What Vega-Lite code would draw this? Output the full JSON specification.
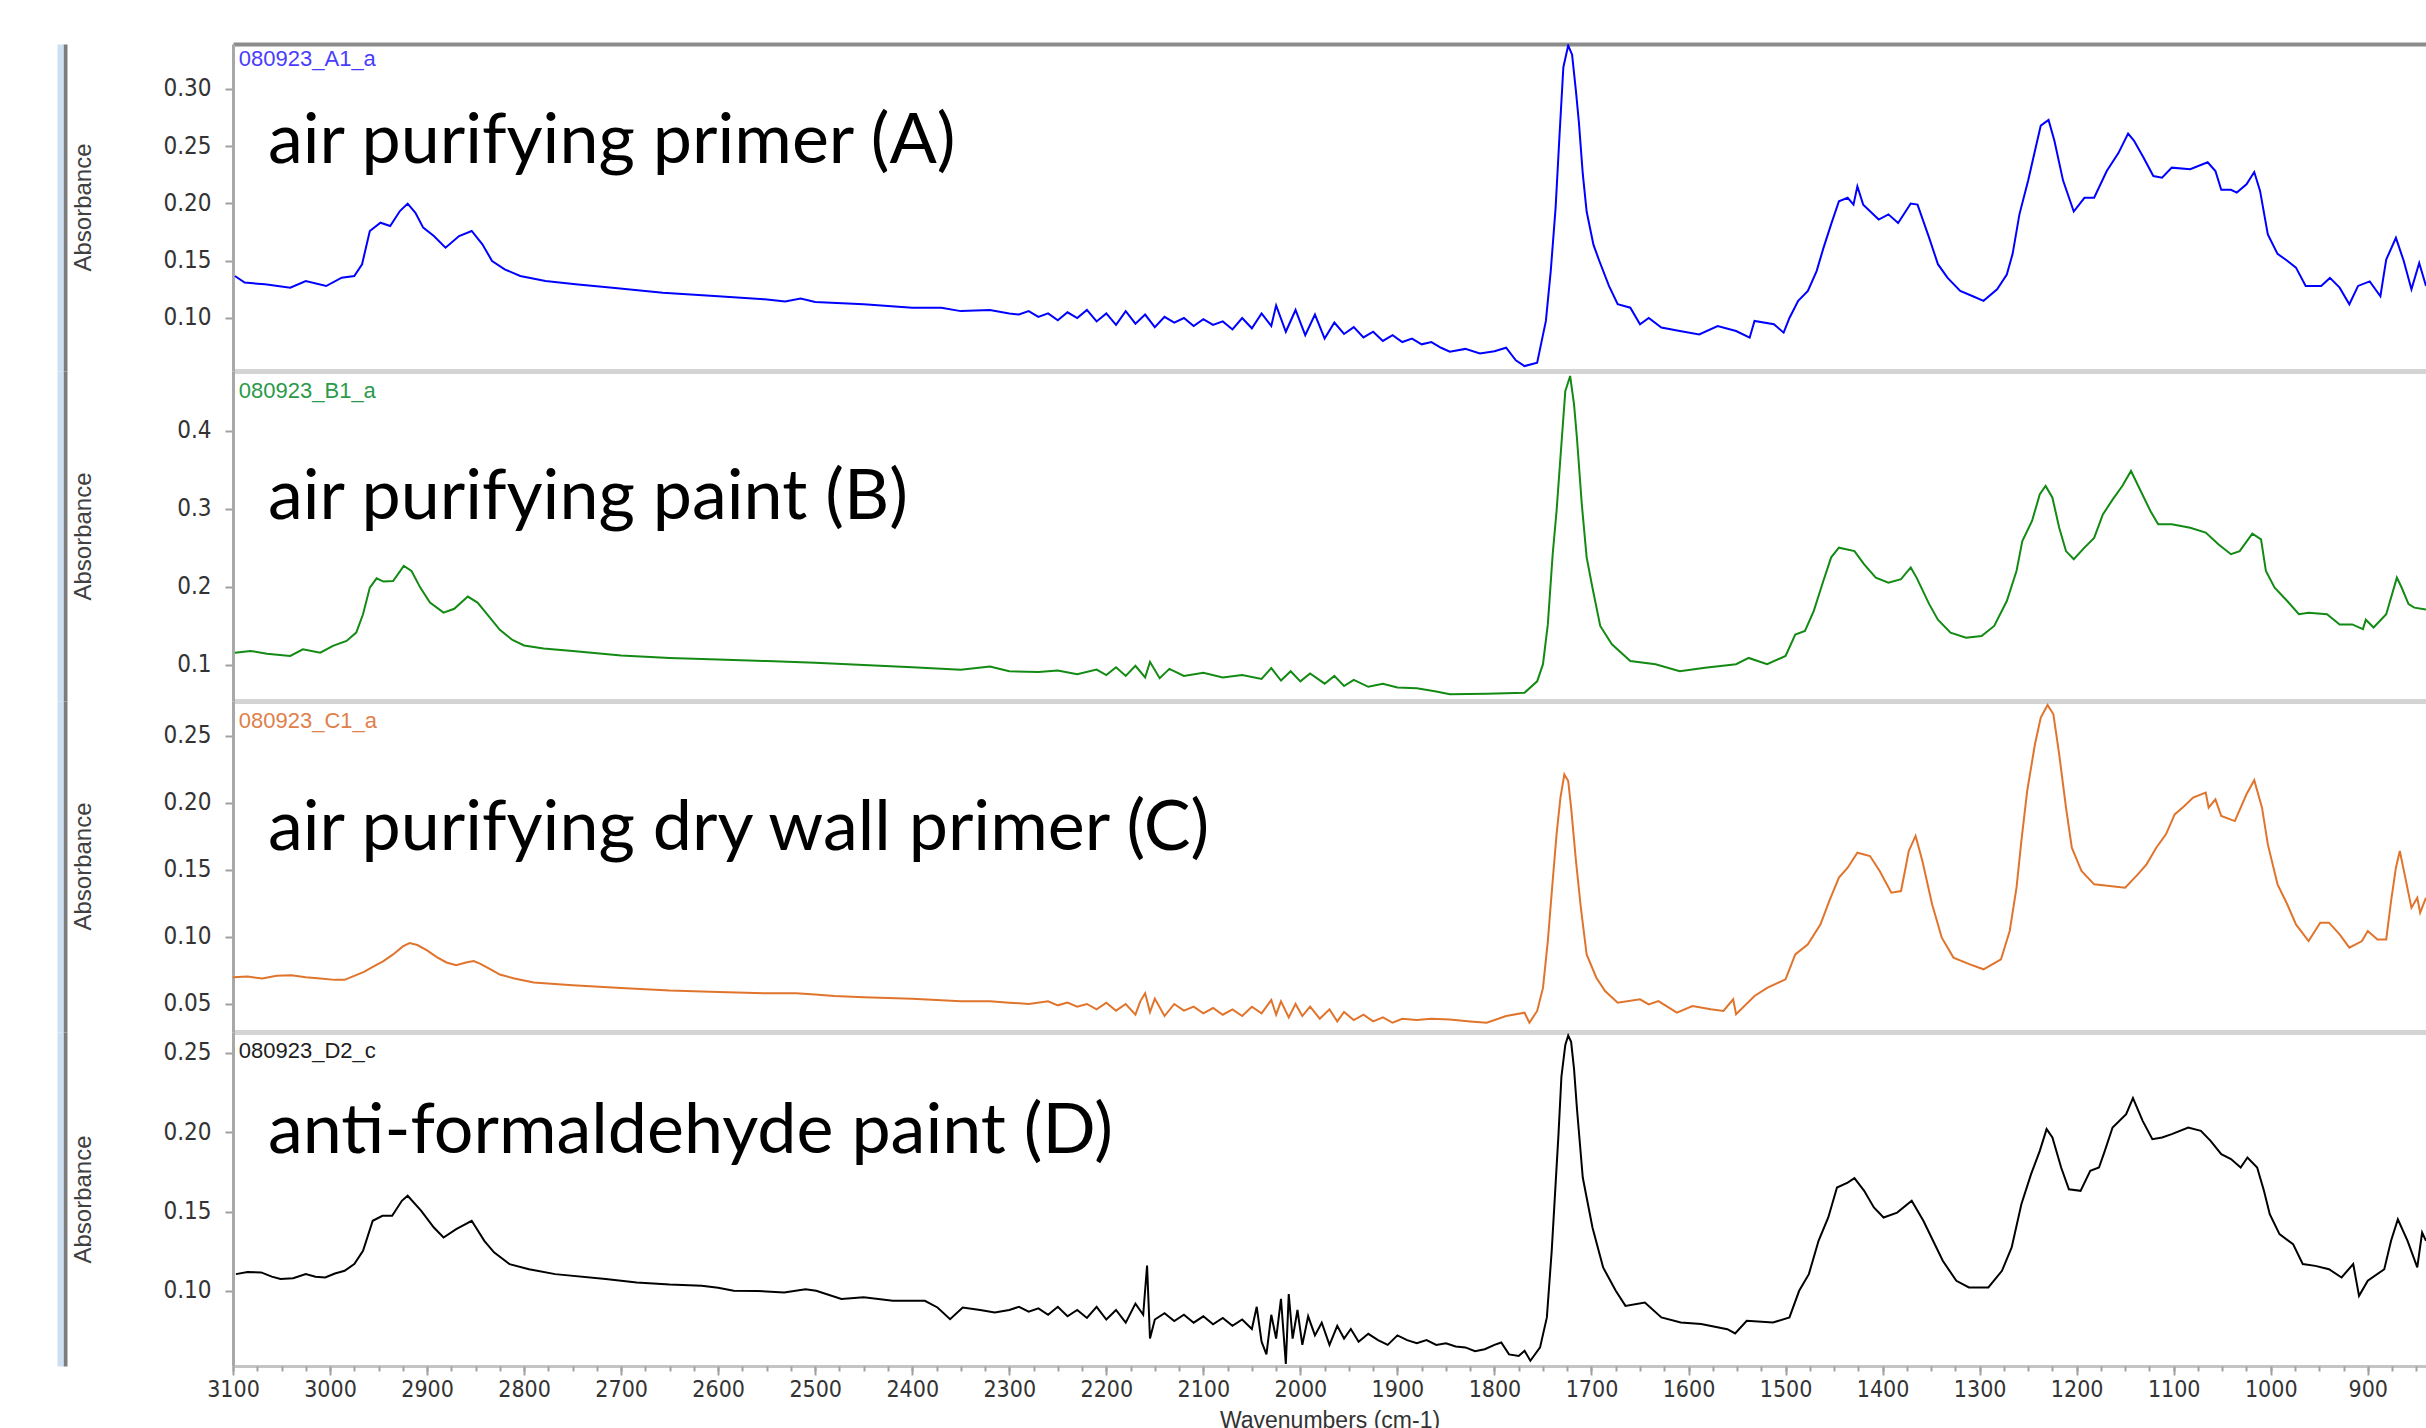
{
"$schema": "https://vega.github.io/schema/vega-lite/v6.json",
"padding": {"top": 44, "left": 60, "right": 0, "bottom": 0},
"background": "white",
"spacing": 0,
"bounds": "flush",
"config": {"view": {"stroke": null}, "axis": {"grid": false, "labelFlush": false}, "concat": {"spacing": 0}},
"datasets": {
"labels": [
{"panel":"A","kind":"id","text":"080923_A1_a","wn":3094,"abs":0.3262},
{"panel":"A","kind":"name","text":"air purifying primer (A)","wn":3064,"abs":0.235},
{"panel":"B","kind":"id","text":"080923_B1_a","wn":3094,"abs":0.4513},
{"panel":"B","kind":"name","text":"air purifying paint (B)","wn":3064,"abs":0.2872},
{"panel":"C","kind":"id","text":"080923_C1_a","wn":3094,"abs":0.2612},
{"panel":"C","kind":"name","text":"air purifying dry wall primer (C)","wn":3064,"abs":0.165},
{"panel":"D","kind":"id","text":"080923_D2_c","wn":3094,"abs":0.2513},
{"panel":"D","kind":"name","text":"anti-formaldehyde paint (D)","wn":3064,"abs":0.187}
],
"A": [
{"wn":3098,"abs":0.1367},{"wn":3088,"abs":0.1309},{"wn":3067,"abs":0.1294},{"wn":3041,"abs":0.1265},{"wn":3025,"abs":0.1323},{"wn":3004,"abs":0.1279},{"wn":2988,"abs":0.1352},{"wn":2975,"abs":0.1367},{"wn":2967,"abs":0.1469},{"wn":2959,"abs":0.176},{"wn":2948,"abs":0.1832},{"wn":2938,"abs":0.1803},{"wn":2928,"abs":0.1934},{"wn":2920,"abs":0.1999},{"wn":2912,"abs":0.1919},{"wn":2904,"abs":0.1789},{"wn":2893,"abs":0.1716},{"wn":2881,"abs":0.1614},{"wn":2867,"abs":0.1716},{"wn":2854,"abs":0.176},{"wn":2843,"abs":0.1643},{"wn":2833,"abs":0.1498},{"wn":2820,"abs":0.1425},{"wn":2804,"abs":0.1367},{"wn":2778,"abs":0.1323},{"wn":2747,"abs":0.1294},{"wn":2709,"abs":0.1265},{"wn":2657,"abs":0.122},{"wn":2604,"abs":0.1192},{"wn":2552,"abs":0.1163},{"wn":2531,"abs":0.1145},{"wn":2515,"abs":0.117},{"wn":2500,"abs":0.114},{"wn":2450,"abs":0.112},{"wn":2400,"abs":0.109},{"wn":2370,"abs":0.109},{"wn":2350,"abs":0.106},{"wn":2320,"abs":0.107},{"wn":2300,"abs":0.104},{"wn":2290,"abs":0.103},{"wn":2280,"abs":0.106},{"wn":2270,"abs":0.101},{"wn":2260,"abs":0.104},{"wn":2250,"abs":0.098},{"wn":2240,"abs":0.105},{"wn":2230,"abs":0.1},{"wn":2220,"abs":0.107},{"wn":2210,"abs":0.097},{"wn":2200,"abs":0.104},{"wn":2190,"abs":0.094},{"wn":2180,"abs":0.106},{"wn":2170,"abs":0.095},{"wn":2160,"abs":0.103},{"wn":2150,"abs":0.092},{"wn":2140,"abs":0.101},{"wn":2130,"abs":0.096},{"wn":2120,"abs":0.1},{"wn":2110,"abs":0.093},{"wn":2100,"abs":0.099},{"wn":2090,"abs":0.094},{"wn":2080,"abs":0.097},{"wn":2070,"abs":0.09},{"wn":2060,"abs":0.1},{"wn":2050,"abs":0.091},{"wn":2040,"abs":0.104},{"wn":2030,"abs":0.093},{"wn":2025,"abs":0.111},{"wn":2015,"abs":0.088},{"wn":2005,"abs":0.107},{"wn":1995,"abs":0.085},{"wn":1985,"abs":0.103},{"wn":1975,"abs":0.082},{"wn":1965,"abs":0.096},{"wn":1955,"abs":0.086},{"wn":1945,"abs":0.092},{"wn":1935,"abs":0.083},{"wn":1925,"abs":0.088},{"wn":1915,"abs":0.08},{"wn":1905,"abs":0.085},{"wn":1895,"abs":0.079},{"wn":1885,"abs":0.082},{"wn":1875,"abs":0.077},{"wn":1865,"abs":0.079},{"wn":1855,"abs":0.074},{"wn":1846,"abs":0.0706},{"wn":1830,"abs":0.073},{"wn":1815,"abs":0.069},{"wn":1800,"abs":0.071},{"wn":1788,"abs":0.074},{"wn":1778,"abs":0.063},{"wn":1769,"abs":0.058},{"wn":1756,"abs":0.061},{"wn":1747,"abs":0.0974},{"wn":1742,"abs":0.141},{"wn":1737,"abs":0.196},{"wn":1733,"abs":0.259},{"wn":1729,"abs":0.319},{"wn":1724,"abs":0.338},{"wn":1720,"abs":0.33},{"wn":1716,"abs":0.298},{"wn":1713,"abs":0.271},{"wn":1709,"abs":0.226},{"wn":1705,"abs":0.193},{"wn":1698,"abs":0.164},{"wn":1692,"abs":0.15},{"wn":1682,"abs":0.128},{"wn":1673,"abs":0.112},{"wn":1660,"abs":0.109},{"wn":1650,"abs":0.0945},{"wn":1641,"abs":0.1},{"wn":1628,"abs":0.0916},{"wn":1609,"abs":0.0886},{"wn":1589,"abs":0.0857},{"wn":1570,"abs":0.093},{"wn":1551,"abs":0.0886},{"wn":1537,"abs":0.0828},{"wn":1532,"abs":0.0974},{"wn":1512,"abs":0.0945},{"wn":1502,"abs":0.0872},{"wn":1496,"abs":0.1},{"wn":1487,"abs":0.115},{"wn":1477,"abs":0.1236},{"wn":1468,"abs":0.141},{"wn":1461,"abs":0.161},{"wn":1453,"abs":0.182},{"wn":1445,"abs":0.202},{"wn":1436,"abs":0.205},{"wn":1430,"abs":0.199},{"wn":1426,"abs":0.215},{"wn":1420,"abs":0.199},{"wn":1404,"abs":0.186},{"wn":1394,"abs":0.1905},{"wn":1384,"abs":0.183},{"wn":1371,"abs":0.2},{"wn":1364,"abs":0.199},{"wn":1352,"abs":0.17},{"wn":1343,"abs":0.147},{"wn":1333,"abs":0.135},{"wn":1320,"abs":0.1236},{"wn":1307,"abs":0.119},{"wn":1296,"abs":0.115},{"wn":1282,"abs":0.125},{"wn":1272,"abs":0.138},{"wn":1266,"abs":0.156},{"wn":1259,"abs":0.1905},{"wn":1250,"abs":0.22},{"wn":1243,"abs":0.246},{"wn":1237,"abs":0.268},{"wn":1229,"abs":0.273},{"wn":1223,"abs":0.255},{"wn":1214,"abs":0.22},{"wn":1203,"abs":0.193},{"wn":1192,"abs":0.205},{"wn":1182,"abs":0.205},{"wn":1169,"abs":0.2284},{"wn":1157,"abs":0.244},{"wn":1147,"abs":0.261},{"wn":1141,"abs":0.255},{"wn":1131,"abs":0.24},{"wn":1121,"abs":0.224},{"wn":1112,"abs":0.2226},{"wn":1102,"abs":0.2313},{"wn":1083,"abs":0.23},{"wn":1065,"abs":0.236},{"wn":1057,"abs":0.2284},{"wn":1051,"abs":0.212},{"wn":1041,"abs":0.212},{"wn":1035,"abs":0.2095},{"wn":1025,"abs":0.2167},{"wn":1017,"abs":0.2275},{"wn":1011,"abs":0.211},{"wn":1003,"abs":0.173},{"wn":993,"abs":0.156},{"wn":983,"abs":0.15},{"wn":974,"abs":0.144},{"wn":964,"abs":0.128},{"wn":948,"abs":0.128},{"wn":939,"abs":0.135},{"wn":929,"abs":0.1265},{"wn":919,"abs":0.112},{"wn":910,"abs":0.128},{"wn":898,"abs":0.132},{"wn":887,"abs":0.119},{"wn":881,"abs":0.151},{"wn":871,"abs":0.17},{"wn":863,"abs":0.15},{"wn":855,"abs":0.125},{"wn":847,"abs":0.148},{"wn":840,"abs":0.128}
],
"B": [
{"wn":3098,"abs":0.1158},{"wn":3082,"abs":0.118},{"wn":3065,"abs":0.1145},{"wn":3041,"abs":0.1115},{"wn":3028,"abs":0.12},{"wn":3010,"abs":0.1158},{"wn":2997,"abs":0.1244},{"wn":2983,"abs":0.1308},{"wn":2973,"abs":0.1415},{"wn":2966,"abs":0.165},{"wn":2959,"abs":0.1992},{"wn":2952,"abs":0.2111},{"wn":2945,"abs":0.2069},{"wn":2935,"abs":0.2077},{"wn":2924,"abs":0.227},{"wn":2916,"abs":0.2205},{"wn":2907,"abs":0.1992},{"wn":2897,"abs":0.18},{"wn":2883,"abs":0.1671},{"wn":2872,"abs":0.172},{"wn":2858,"abs":0.1877},{"wn":2848,"abs":0.18},{"wn":2838,"abs":0.165},{"wn":2825,"abs":0.145},{"wn":2812,"abs":0.132},{"wn":2800,"abs":0.125},{"wn":2780,"abs":0.121},{"wn":2750,"abs":0.118},{"wn":2700,"abs":0.112},{"wn":2650,"abs":0.109},{"wn":2600,"abs":0.107},{"wn":2550,"abs":0.105},{"wn":2500,"abs":0.103},{"wn":2450,"abs":0.1},{"wn":2400,"abs":0.097},{"wn":2350,"abs":0.094},{"wn":2320,"abs":0.098},{"wn":2300,"abs":0.092},{"wn":2270,"abs":0.091},{"wn":2250,"abs":0.093},{"wn":2230,"abs":0.088},{"wn":2210,"abs":0.094},{"wn":2200,"abs":0.087},{"wn":2190,"abs":0.097},{"wn":2180,"abs":0.086},{"wn":2170,"abs":0.099},{"wn":2160,"abs":0.084},{"wn":2155,"abs":0.104},{"wn":2145,"abs":0.083},{"wn":2135,"abs":0.095},{"wn":2120,"abs":0.086},{"wn":2100,"abs":0.09},{"wn":2080,"abs":0.084},{"wn":2060,"abs":0.087},{"wn":2040,"abs":0.082},{"wn":2030,"abs":0.096},{"wn":2020,"abs":0.08},{"wn":2010,"abs":0.092},{"wn":2000,"abs":0.079},{"wn":1990,"abs":0.089},{"wn":1975,"abs":0.076},{"wn":1965,"abs":0.086},{"wn":1955,"abs":0.073},{"wn":1945,"abs":0.081},{"wn":1930,"abs":0.072},{"wn":1915,"abs":0.076},{"wn":1900,"abs":0.071},{"wn":1880,"abs":0.07},{"wn":1860,"abs":0.066},{"wn":1846,"abs":0.0624},{"wn":1808,"abs":0.063},{"wn":1769,"abs":0.0645},{"wn":1756,"abs":0.079},{"wn":1750,"abs":0.101},{"wn":1745,"abs":0.152},{"wn":1740,"abs":0.242},{"wn":1736,"abs":0.2974},{"wn":1732,"abs":0.366},{"wn":1727,"abs":0.451},{"wn":1722,"abs":0.4705},{"wn":1718,"abs":0.434},{"wn":1715,"abs":0.391},{"wn":1710,"abs":0.306},{"wn":1705,"abs":0.238},{"wn":1699,"abs":0.199},{"wn":1691,"abs":0.15},{"wn":1679,"abs":0.1265},{"wn":1660,"abs":0.105},{"wn":1634,"abs":0.101},{"wn":1609,"abs":0.092},{"wn":1583,"abs":0.0965},{"wn":1551,"abs":0.101},{"wn":1538,"abs":0.109},{"wn":1519,"abs":0.101},{"wn":1500,"abs":0.1115},{"wn":1490,"abs":0.139},{"wn":1480,"abs":0.1436},{"wn":1471,"abs":0.169},{"wn":1461,"abs":0.208},{"wn":1453,"abs":0.238},{"wn":1445,"abs":0.2504},{"wn":1429,"abs":0.246},{"wn":1419,"abs":0.229},{"wn":1407,"abs":0.212},{"wn":1394,"abs":0.2055},{"wn":1381,"abs":0.21},{"wn":1371,"abs":0.225},{"wn":1365,"abs":0.212},{"wn":1352,"abs":0.178},{"wn":1343,"abs":0.158},{"wn":1330,"abs":0.1414},{"wn":1314,"abs":0.135},{"wn":1298,"abs":0.137},{"wn":1285,"abs":0.15},{"wn":1272,"abs":0.182},{"wn":1262,"abs":0.2205},{"wn":1256,"abs":0.259},{"wn":1246,"abs":0.2846},{"wn":1238,"abs":0.319},{"wn":1232,"abs":0.3295},{"wn":1225,"abs":0.3145},{"wn":1218,"abs":0.276},{"wn":1211,"abs":0.246},{"wn":1203,"abs":0.2355},{"wn":1192,"abs":0.2504},{"wn":1182,"abs":0.263},{"wn":1173,"abs":0.293},{"wn":1163,"abs":0.312},{"wn":1153,"abs":0.3295},{"wn":1144,"abs":0.3487},{"wn":1134,"abs":0.323},{"wn":1124,"abs":0.2974},{"wn":1116,"abs":0.2803},{"wn":1102,"abs":0.2803},{"wn":1083,"abs":0.276},{"wn":1067,"abs":0.2697},{"wn":1054,"abs":0.2547},{"wn":1041,"abs":0.242},{"wn":1032,"abs":0.246},{"wn":1019,"abs":0.2684},{"wn":1010,"abs":0.261},{"wn":1005,"abs":0.2205},{"wn":996,"abs":0.199},{"wn":983,"abs":0.182},{"wn":971,"abs":0.165},{"wn":961,"abs":0.167},{"wn":942,"abs":0.165},{"wn":929,"abs":0.152},{"wn":916,"abs":0.152},{"wn":905,"abs":0.146},{"wn":902,"abs":0.158},{"wn":894,"abs":0.148},{"wn":881,"abs":0.165},{"wn":870,"abs":0.212},{"wn":865,"abs":0.199},{"wn":858,"abs":0.178},{"wn":852,"abs":0.1735},{"wn":840,"abs":0.171}
],
"C": [
{"wn":3100,"abs":0.07},{"wn":3085,"abs":0.0705},{"wn":3070,"abs":0.069},{"wn":3055,"abs":0.071},{"wn":3040,"abs":0.0715},{"wn":3025,"abs":0.07},{"wn":3010,"abs":0.069},{"wn":2995,"abs":0.068},{"wn":2985,"abs":0.068},{"wn":2975,"abs":0.071},{"wn":2965,"abs":0.074},{"wn":2955,"abs":0.078},{"wn":2945,"abs":0.082},{"wn":2935,"abs":0.087},{"wn":2925,"abs":0.093},{"wn":2918,"abs":0.0955},{"wn":2910,"abs":0.094},{"wn":2900,"abs":0.09},{"wn":2890,"abs":0.085},{"wn":2880,"abs":0.081},{"wn":2870,"abs":0.079},{"wn":2860,"abs":0.081},{"wn":2852,"abs":0.082},{"wn":2845,"abs":0.08},{"wn":2835,"abs":0.076},{"wn":2825,"abs":0.072},{"wn":2810,"abs":0.069},{"wn":2790,"abs":0.066},{"wn":2750,"abs":0.064},{"wn":2700,"abs":0.062},{"wn":2650,"abs":0.06},{"wn":2600,"abs":0.059},{"wn":2550,"abs":0.058},{"wn":2520,"abs":0.058},{"wn":2500,"abs":0.057},{"wn":2480,"abs":0.056},{"wn":2450,"abs":0.055},{"wn":2400,"abs":0.054},{"wn":2350,"abs":0.052},{"wn":2320,"abs":0.052},{"wn":2300,"abs":0.051},{"wn":2280,"abs":0.05},{"wn":2260,"abs":0.052},{"wn":2250,"abs":0.049},{"wn":2240,"abs":0.051},{"wn":2230,"abs":0.048},{"wn":2220,"abs":0.05},{"wn":2210,"abs":0.046},{"wn":2200,"abs":0.051},{"wn":2190,"abs":0.045},{"wn":2180,"abs":0.05},{"wn":2170,"abs":0.042},{"wn":2165,"abs":0.052},{"wn":2160,"abs":0.058},{"wn":2155,"abs":0.044},{"wn":2150,"abs":0.054},{"wn":2140,"abs":0.041},{"wn":2130,"abs":0.05},{"wn":2120,"abs":0.045},{"wn":2110,"abs":0.048},{"wn":2100,"abs":0.043},{"wn":2090,"abs":0.047},{"wn":2080,"abs":0.042},{"wn":2070,"abs":0.046},{"wn":2060,"abs":0.041},{"wn":2050,"abs":0.048},{"wn":2040,"abs":0.043},{"wn":2030,"abs":0.053},{"wn":2025,"abs":0.042},{"wn":2020,"abs":0.052},{"wn":2012,"abs":0.04},{"wn":2005,"abs":0.05},{"wn":1998,"abs":0.041},{"wn":1990,"abs":0.048},{"wn":1980,"abs":0.039},{"wn":1970,"abs":0.046},{"wn":1962,"abs":0.037},{"wn":1955,"abs":0.044},{"wn":1945,"abs":0.038},{"wn":1935,"abs":0.042},{"wn":1925,"abs":0.037},{"wn":1915,"abs":0.04},{"wn":1905,"abs":0.036},{"wn":1895,"abs":0.039},{"wn":1880,"abs":0.038},{"wn":1865,"abs":0.039},{"wn":1846,"abs":0.0385},{"wn":1825,"abs":0.037},{"wn":1808,"abs":0.036},{"wn":1788,"abs":0.041},{"wn":1769,"abs":0.0435},{"wn":1764,"abs":0.036},{"wn":1756,"abs":0.0448},{"wn":1750,"abs":0.062},{"wn":1745,"abs":0.097},{"wn":1740,"abs":0.1418},{"wn":1736,"abs":0.1766},{"wn":1732,"abs":0.204},{"wn":1728,"abs":0.2214},{"wn":1724,"abs":0.2164},{"wn":1721,"abs":0.1965},{"wn":1716,"abs":0.1567},{"wn":1711,"abs":0.122},{"wn":1705,"abs":0.087},{"wn":1695,"abs":0.0696},{"wn":1686,"abs":0.0597},{"wn":1673,"abs":0.051},{"wn":1650,"abs":0.0535},{"wn":1641,"abs":0.0497},{"wn":1631,"abs":0.0522},{"wn":1612,"abs":0.0435},{"wn":1596,"abs":0.0485},{"wn":1577,"abs":0.046},{"wn":1564,"abs":0.0448},{"wn":1554,"abs":0.0535},{"wn":1551,"abs":0.0423},{"wn":1532,"abs":0.056},{"wn":1519,"abs":0.062},{"wn":1500,"abs":0.0684},{"wn":1490,"abs":0.087},{"wn":1477,"abs":0.0945},{"wn":1464,"abs":0.1094},{"wn":1455,"abs":0.1268},{"wn":1445,"abs":0.1443},{"wn":1436,"abs":0.1517},{"wn":1426,"abs":0.1629},{"wn":1413,"abs":0.1604},{"wn":1403,"abs":0.1492},{"wn":1391,"abs":0.1331},{"wn":1381,"abs":0.1343},{"wn":1373,"abs":0.1642},{"wn":1366,"abs":0.1754},{"wn":1359,"abs":0.1567},{"wn":1349,"abs":0.1244},{"wn":1339,"abs":0.0995},{"wn":1327,"abs":0.0846},{"wn":1310,"abs":0.0796},{"wn":1296,"abs":0.0759},{"wn":1278,"abs":0.0833},{"wn":1269,"abs":0.1045},{"wn":1262,"abs":0.1368},{"wn":1257,"abs":0.1716},{"wn":1251,"abs":0.209},{"wn":1243,"abs":0.2438},{"wn":1237,"abs":0.2637},{"wn":1230,"abs":0.2731},{"wn":1224,"abs":0.2662},{"wn":1218,"abs":0.2363},{"wn":1211,"abs":0.1965},{"wn":1205,"abs":0.1666},{"wn":1195,"abs":0.1492},{"wn":1182,"abs":0.1393},{"wn":1166,"abs":0.138},{"wn":1150,"abs":0.1368},{"wn":1137,"abs":0.1467},{"wn":1128,"abs":0.1542},{"wn":1118,"abs":0.1666},{"wn":1108,"abs":0.1766},{"wn":1099,"abs":0.1915},{"wn":1089,"abs":0.1977},{"wn":1080,"abs":0.204},{"wn":1067,"abs":0.2077},{"wn":1064,"abs":0.1965},{"wn":1057,"abs":0.2027},{"wn":1051,"abs":0.1903},{"wn":1037,"abs":0.1865},{"wn":1025,"abs":0.2065},{"wn":1017,"abs":0.217},{"wn":1009,"abs":0.1965},{"wn":1003,"abs":0.1691},{"wn":993,"abs":0.1393},{"wn":983,"abs":0.1244},{"wn":974,"abs":0.1094},{"wn":961,"abs":0.097},{"wn":949,"abs":0.1107},{"wn":940,"abs":0.1107},{"wn":929,"abs":0.102},{"wn":919,"abs":0.092},{"wn":906,"abs":0.097},{"wn":900,"abs":0.1045},{"wn":890,"abs":0.0982},{"wn":881,"abs":0.0982},{"wn":876,"abs":0.1268},{"wn":871,"abs":0.1517},{"wn":867,"abs":0.1642},{"wn":862,"abs":0.1467},{"wn":855,"abs":0.1219},{"wn":849,"abs":0.1293},{"wn":846,"abs":0.1182},{"wn":840,"abs":0.1293}
],
"D": [
{"wn":3097,"abs":0.1106},{"wn":3085,"abs":0.112},{"wn":3071,"abs":0.1117},{"wn":3060,"abs":0.109},{"wn":3051,"abs":0.1075},{"wn":3038,"abs":0.108},{"wn":3025,"abs":0.1106},{"wn":3015,"abs":0.109},{"wn":3005,"abs":0.1085},{"wn":2995,"abs":0.111},{"wn":2985,"abs":0.1127},{"wn":2975,"abs":0.1169},{"wn":2966,"abs":0.1253},{"wn":2956,"abs":0.1442},{"wn":2946,"abs":0.1474},{"wn":2936,"abs":0.1474},{"wn":2926,"abs":0.1568},{"wn":2920,"abs":0.16},{"wn":2906,"abs":0.1505},{"wn":2893,"abs":0.14},{"wn":2883,"abs":0.1337},{"wn":2870,"abs":0.139},{"wn":2854,"abs":0.1442},{"wn":2841,"abs":0.1316},{"wn":2831,"abs":0.1243},{"wn":2815,"abs":0.1169},{"wn":2795,"abs":0.1137},{"wn":2768,"abs":0.1106},{"wn":2716,"abs":0.1075},{"wn":2684,"abs":0.1054},{"wn":2650,"abs":0.104},{"wn":2617,"abs":0.1033},{"wn":2600,"abs":0.102},{"wn":2584,"abs":0.1001},{"wn":2560,"abs":0.1},{"wn":2532,"abs":0.0991},{"wn":2510,"abs":0.101},{"wn":2499,"abs":0.1001},{"wn":2473,"abs":0.0949},{"wn":2450,"abs":0.096},{"wn":2420,"abs":0.0938},{"wn":2387,"abs":0.0938},{"wn":2374,"abs":0.0896},{"wn":2361,"abs":0.0822},{"wn":2348,"abs":0.0896},{"wn":2330,"abs":0.088},{"wn":2315,"abs":0.0864},{"wn":2300,"abs":0.088},{"wn":2290,"abs":0.09},{"wn":2280,"abs":0.087},{"wn":2270,"abs":0.089},{"wn":2260,"abs":0.085},{"wn":2250,"abs":0.09},{"wn":2240,"abs":0.084},{"wn":2230,"abs":0.088},{"wn":2220,"abs":0.083},{"wn":2210,"abs":0.09},{"wn":2200,"abs":0.082},{"wn":2190,"abs":0.088},{"wn":2180,"abs":0.08},{"wn":2170,"abs":0.092},{"wn":2162,"abs":0.085},{"wn":2158,"abs":0.116},{"wn":2155,"abs":0.07},{"wn":2150,"abs":0.082},{"wn":2140,"abs":0.086},{"wn":2130,"abs":0.081},{"wn":2120,"abs":0.085},{"wn":2110,"abs":0.08},{"wn":2100,"abs":0.084},{"wn":2090,"abs":0.079},{"wn":2080,"abs":0.083},{"wn":2070,"abs":0.078},{"wn":2060,"abs":0.082},{"wn":2050,"abs":0.076},{"wn":2045,"abs":0.09},{"wn":2040,"abs":0.068},{"wn":2035,"abs":0.06},{"wn":2030,"abs":0.085},{"wn":2025,"abs":0.07},{"wn":2020,"abs":0.095},{"wn":2015,"abs":0.054},{"wn":2012,"abs":0.098},{"wn":2008,"abs":0.07},{"wn":2003,"abs":0.088},{"wn":1998,"abs":0.066},{"wn":1992,"abs":0.084},{"wn":1985,"abs":0.072},{"wn":1978,"abs":0.08},{"wn":1970,"abs":0.066},{"wn":1962,"abs":0.078},{"wn":1955,"abs":0.07},{"wn":1948,"abs":0.076},{"wn":1940,"abs":0.068},{"wn":1930,"abs":0.073},{"wn":1920,"abs":0.069},{"wn":1910,"abs":0.066},{"wn":1900,"abs":0.072},{"wn":1890,"abs":0.069},{"wn":1880,"abs":0.067},{"wn":1870,"abs":0.069},{"wn":1860,"abs":0.066},{"wn":1850,"abs":0.067},{"wn":1840,"abs":0.065},{"wn":1830,"abs":0.0644},{"wn":1820,"abs":0.062},{"wn":1810,"abs":0.0633},{"wn":1800,"abs":0.066},{"wn":1793,"abs":0.0675},{"wn":1785,"abs":0.06},{"wn":1775,"abs":0.059},{"wn":1769,"abs":0.0623},{"wn":1763,"abs":0.056},{"wn":1753,"abs":0.0644},{"wn":1746,"abs":0.0833},{"wn":1741,"abs":0.1253},{"wn":1737,"abs":0.1673},{"wn":1734,"abs":0.1988},{"wn":1731,"abs":0.235},{"wn":1727,"abs":0.255},{"wn":1724,"abs":0.261},{"wn":1721,"abs":0.257},{"wn":1718,"abs":0.24},{"wn":1715,"abs":0.215},{"wn":1709,"abs":0.1715},{"wn":1699,"abs":0.14},{"wn":1688,"abs":0.1148},{"wn":1675,"abs":0.1001},{"wn":1665,"abs":0.0906},{"wn":1645,"abs":0.0927},{"wn":1628,"abs":0.0833},{"wn":1608,"abs":0.0801},{"wn":1587,"abs":0.0791},{"wn":1560,"abs":0.0759},{"wn":1552,"abs":0.0732},{"wn":1540,"abs":0.0812},{"wn":1513,"abs":0.0801},{"wn":1496,"abs":0.0833},{"wn":1486,"abs":0.1001},{"wn":1476,"abs":0.1106},{"wn":1466,"abs":0.1316},{"wn":1456,"abs":0.1463},{"wn":1447,"abs":0.1652},{"wn":1436,"abs":0.1683},{"wn":1429,"abs":0.1711},{"wn":1419,"abs":0.1631},{"wn":1409,"abs":0.1526},{"wn":1399,"abs":0.1463},{"wn":1385,"abs":0.1494},{"wn":1370,"abs":0.1568},{"wn":1358,"abs":0.1442},{"wn":1348,"abs":0.1316},{"wn":1338,"abs":0.119},{"wn":1324,"abs":0.1064},{"wn":1311,"abs":0.1022},{"wn":1291,"abs":0.1022},{"wn":1277,"abs":0.1127},{"wn":1267,"abs":0.1274},{"wn":1257,"abs":0.1547},{"wn":1247,"abs":0.1736},{"wn":1238,"abs":0.1883},{"wn":1231,"abs":0.202},{"wn":1225,"abs":0.1967},{"wn":1216,"abs":0.1778},{"wn":1208,"abs":0.1641},{"wn":1196,"abs":0.1631},{"wn":1186,"abs":0.1757},{"wn":1177,"abs":0.1778},{"wn":1171,"abs":0.1883},{"wn":1163,"abs":0.203},{"wn":1149,"abs":0.2114},{"wn":1142,"abs":0.2216},{"wn":1132,"abs":0.2072},{"wn":1122,"abs":0.1956},{"wn":1112,"abs":0.1967},{"wn":1102,"abs":0.1988},{"wn":1085,"abs":0.203},{"wn":1072,"abs":0.2009},{"wn":1062,"abs":0.1946},{"wn":1051,"abs":0.1862},{"wn":1041,"abs":0.1831},{"wn":1031,"abs":0.1778},{"wn":1024,"abs":0.1841},{"wn":1014,"abs":0.1778},{"wn":1007,"abs":0.1631},{"wn":1001,"abs":0.1484},{"wn":991,"abs":0.1358},{"wn":977,"abs":0.1295},{"wn":967,"abs":0.117},{"wn":954,"abs":0.1158},{"wn":940,"abs":0.1137},{"wn":927,"abs":0.1085},{"wn":915,"abs":0.117},{"wn":909,"abs":0.0969},{"wn":900,"abs":0.1064},{"wn":883,"abs":0.1137},{"wn":876,"abs":0.1316},{"wn":869,"abs":0.1452},{"wn":859,"abs":0.1316},{"wn":849,"abs":0.1148},{"wn":844,"abs":0.1368},{"wn":840,"abs":0.1316}
]
},
"vconcat": [
{
"width": 2193, "height": 327,
"layer": [
{"data": {"name": "A"}, "mark": {"type": "line", "color": "#0000ff", "strokeWidth": 2, "clip": true},
 "encoding": {
  "x": {"field": "wn", "type": "quantitative", "scale": {"domain": [3100, 840], "nice": false, "zero": false},
        "axis": {"orient": "bottom", "labels": false, "ticks": false, "title": null, "domainColor": "#d4d4d4", "domainWidth": 5}},
  "y": {"field": "abs", "type": "quantitative", "scale": {"domain": [0.0537, 0.3393], "nice": false, "zero": false},
        "axis": {"orient": "left", "values": [0.1, 0.15, 0.2, 0.25, 0.3], "format": ".2f", "title": "Absorbance", "titleX": -150, "titleY": 163, "titleAngle": 270, "titleBaseline": "middle", "titleAlign": "center", "titleFont": "Liberation Sans", "titleFontSize": 24, "titleFontWeight": "normal", "titleColor": "#404040", "labelFont": "DejaVu Sans Condensed, Liberation Sans", "labelFontSize": 24, "labelColor": "#333333", "labelPadding": 14, "tickSize": 8, "tickColor": "#a0a0a0", "tickWidth": 2, "domainColor": "#a8a8a8", "domainWidth": 3}}
 }},
{"data": {"name": "labels"}, "transform": [{"filter": "datum.panel == 'A' && datum.kind == 'id'"}],
 "mark": {"type": "text", "align": "left", "baseline": "middle", "font": "Liberation Sans", "fontSize": 22, "color": "#4a3cff"},
 "encoding": {
  "x": {"field": "wn", "type": "quantitative", "scale": {"domain": [3100, 840], "nice": false, "zero": false},
        "axis": {"orient": "top", "labels": false, "ticks": false, "title": null, "domainColor": "#8c8c8c", "domainWidth": 4}},
  "y": {"field": "abs", "type": "quantitative", "scale": {"domain": [0.0537, 0.3393], "nice": false, "zero": false},
        "axis": {"orient": "left", "offset": 168, "labels": false, "ticks": false, "title": null, "domainColor": "#7c7c7c", "domainWidth": 4}},
  "text": {"field": "text"}
 }},
{"data": {"name": "labels"}, "transform": [{"filter": "datum.panel == 'A' && datum.kind == 'name'"}],
 "mark": {"type": "text", "align": "left", "baseline": "alphabetic", "font": "Lato", "fontSize": 70, "color": "#000000"},
 "encoding": {
  "x": {"field": "wn", "type": "quantitative", "scale": {"domain": [3100, 840], "nice": false, "zero": false}, "axis": null},
  "y": {"field": "abs", "type": "quantitative", "scale": {"domain": [0.0537, 0.3393], "nice": false, "zero": false},
        "axis": {"orient": "left", "offset": 173, "labels": false, "ticks": false, "title": null, "domainColor": "#cddff2", "domainWidth": 6}},
  "text": {"field": "text"}
 }}
],
"resolve": {"axis": {"x": "independent", "y": "independent"}}
},
{
"width": 2193, "height": 330,
"layer": [
{"data": {"name": "B"}, "mark": {"type": "line", "color": "#138a13", "strokeWidth": 2, "clip": true},
 "encoding": {
  "x": {"field": "wn", "type": "quantitative", "scale": {"domain": [3100, 840], "nice": false, "zero": false},
        "axis": {"orient": "bottom", "labels": false, "ticks": false, "title": null, "domainColor": "#d4d4d4", "domainWidth": 5}},
  "y": {"field": "abs", "type": "quantitative", "scale": {"domain": [0.0538, 0.4769], "nice": false, "zero": false},
        "axis": {"orient": "left", "values": [0.1, 0.2, 0.3, 0.4], "format": ".1f", "title": "Absorbance", "titleX": -150, "titleY": 165, "titleAngle": 270, "titleBaseline": "middle", "titleAlign": "center", "titleFont": "Liberation Sans", "titleFontSize": 24, "titleFontWeight": "normal", "titleColor": "#404040", "labelFont": "DejaVu Sans Condensed, Liberation Sans", "labelFontSize": 24, "labelColor": "#333333", "labelPadding": 14, "tickSize": 8, "tickColor": "#a0a0a0", "tickWidth": 2, "domainColor": "#a8a8a8", "domainWidth": 3}}
 }},
{"data": {"name": "labels"}, "transform": [{"filter": "datum.panel == 'B' && datum.kind == 'id'"}],
 "mark": {"type": "text", "align": "left", "baseline": "middle", "font": "Liberation Sans", "fontSize": 22, "color": "#2a9a4a"},
 "encoding": {
  "x": {"field": "wn", "type": "quantitative", "scale": {"domain": [3100, 840], "nice": false, "zero": false}, "axis": null},
  "y": {"field": "abs", "type": "quantitative", "scale": {"domain": [0.0538, 0.4769], "nice": false, "zero": false},
        "axis": {"orient": "left", "offset": 168, "labels": false, "ticks": false, "title": null, "domainColor": "#7c7c7c", "domainWidth": 4}},
  "text": {"field": "text"}
 }},
{"data": {"name": "labels"}, "transform": [{"filter": "datum.panel == 'B' && datum.kind == 'name'"}],
 "mark": {"type": "text", "align": "left", "baseline": "alphabetic", "font": "Lato", "fontSize": 70, "color": "#000000"},
 "encoding": {
  "x": {"field": "wn", "type": "quantitative", "scale": {"domain": [3100, 840], "nice": false, "zero": false}, "axis": null},
  "y": {"field": "abs", "type": "quantitative", "scale": {"domain": [0.0538, 0.4769], "nice": false, "zero": false},
        "axis": {"orient": "left", "offset": 173, "labels": false, "ticks": false, "title": null, "domainColor": "#cddff2", "domainWidth": 6}},
  "text": {"field": "text"}
 }}
],
"resolve": {"axis": {"x": "independent", "y": "independent"}}
},
{
"width": 2193, "height": 331,
"layer": [
{"data": {"name": "C"}, "mark": {"type": "line", "color": "#e0742c", "strokeWidth": 2, "clip": true},
 "encoding": {
  "x": {"field": "wn", "type": "quantitative", "scale": {"domain": [3100, 840], "nice": false, "zero": false},
        "axis": {"orient": "bottom", "labels": false, "ticks": false, "title": null, "domainColor": "#d4d4d4", "domainWidth": 5}},
  "y": {"field": "abs", "type": "quantitative", "scale": {"domain": [0.0291, 0.2761], "nice": false, "zero": false},
        "axis": {"orient": "left", "values": [0.05, 0.1, 0.15, 0.2, 0.25], "format": ".2f", "title": "Absorbance", "titleX": -150, "titleY": 165, "titleAngle": 270, "titleBaseline": "middle", "titleAlign": "center", "titleFont": "Liberation Sans", "titleFontSize": 24, "titleFontWeight": "normal", "titleColor": "#404040", "labelFont": "DejaVu Sans Condensed, Liberation Sans", "labelFontSize": 24, "labelColor": "#333333", "labelPadding": 14, "tickSize": 8, "tickColor": "#a0a0a0", "tickWidth": 2, "domainColor": "#a8a8a8", "domainWidth": 3}}
 }},
{"data": {"name": "labels"}, "transform": [{"filter": "datum.panel == 'C' && datum.kind == 'id'"}],
 "mark": {"type": "text", "align": "left", "baseline": "middle", "font": "Liberation Sans", "fontSize": 22, "color": "#e0804a"},
 "encoding": {
  "x": {"field": "wn", "type": "quantitative", "scale": {"domain": [3100, 840], "nice": false, "zero": false}, "axis": null},
  "y": {"field": "abs", "type": "quantitative", "scale": {"domain": [0.0291, 0.2761], "nice": false, "zero": false},
        "axis": {"orient": "left", "offset": 168, "labels": false, "ticks": false, "title": null, "domainColor": "#7c7c7c", "domainWidth": 4}},
  "text": {"field": "text"}
 }},
{"data": {"name": "labels"}, "transform": [{"filter": "datum.panel == 'C' && datum.kind == 'name'"}],
 "mark": {"type": "text", "align": "left", "baseline": "alphabetic", "font": "Lato", "fontSize": 70, "color": "#000000"},
 "encoding": {
  "x": {"field": "wn", "type": "quantitative", "scale": {"domain": [3100, 840], "nice": false, "zero": false}, "axis": null},
  "y": {"field": "abs", "type": "quantitative", "scale": {"domain": [0.0291, 0.2761], "nice": false, "zero": false},
        "axis": {"orient": "left", "offset": 173, "labels": false, "ticks": false, "title": null, "domainColor": "#cddff2", "domainWidth": 6}},
  "text": {"field": "text"}
 }}
],
"resolve": {"axis": {"x": "independent", "y": "independent"}}
},
{
"width": 2193, "height": 334,
"layer": [
{"data": {"name": "D"}, "mark": {"type": "line", "color": "#000000", "strokeWidth": 2, "clip": true},
 "encoding": {
  "x": {"field": "wn", "type": "quantitative", "scale": {"domain": [3100, 840], "nice": false, "zero": false},
        "axis": {"orient": "bottom", "values": [3100,3000,2900,2800,2700,2600,2500,2400,2300,2200,2100,2000,1900,1800,1700,1600,1500,1400,1300,1200,1100,1000,900], "format": "d", "labelFlush": false, "title": "Wavenumbers (cm-1)", "titleFont": "Liberation Sans", "titleFontSize": 23, "titleFontWeight": "normal", "titleColor": "#333333", "titlePadding": 8, "labelFont": "DejaVu Sans Condensed, Liberation Sans", "labelFontSize": 23, "labelColor": "#333333", "labelPadding": 3, "tickSize": 9, "tickColor": "#a0a0a0", "tickWidth": 2, "domainColor": "#c4c4c4", "domainWidth": 3}},
  "y": {"field": "abs", "type": "quantitative", "scale": {"domain": [0.0527, 0.2632], "nice": false, "zero": false},
        "axis": {"orient": "left", "values": [0.1, 0.15, 0.2, 0.25], "format": ".2f", "title": "Absorbance", "titleX": -150, "titleY": 167, "titleAngle": 270, "titleBaseline": "middle", "titleAlign": "center", "titleFont": "Liberation Sans", "titleFontSize": 24, "titleFontWeight": "normal", "titleColor": "#404040", "labelFont": "DejaVu Sans Condensed, Liberation Sans", "labelFontSize": 24, "labelColor": "#333333", "labelPadding": 14, "tickSize": 8, "tickColor": "#a0a0a0", "tickWidth": 2, "domainColor": "#a8a8a8", "domainWidth": 3}}
 }},
{"data": {"name": "labels"}, "transform": [{"filter": "datum.panel == 'D' && datum.kind == 'id'"}],
 "mark": {"type": "text", "align": "left", "baseline": "middle", "font": "Liberation Sans", "fontSize": 22, "color": "#202020"},
 "encoding": {
  "x": {"field": "wn", "type": "quantitative", "scale": {"domain": [3100, 840], "nice": false, "zero": false},
        "axis": {"orient": "bottom", "values": [3100,3075,3050,3025,3000,2975,2950,2925,2900,2875,2850,2825,2800,2775,2750,2725,2700,2675,2650,2625,2600,2575,2550,2525,2500,2475,2450,2425,2400,2375,2350,2325,2300,2275,2250,2225,2200,2175,2150,2125,2100,2075,2050,2025,2000,1975,1950,1925,1900,1875,1850,1825,1800,1775,1750,1725,1700,1675,1650,1625,1600,1575,1550,1525,1500,1475,1450,1425,1400,1375,1350,1325,1300,1275,1250,1225,1200,1175,1150,1125,1100,1075,1050,1025,1000,975,950,925,900,875,850], "labels": false, "domain": false, "title": null, "tickSize": 5, "tickColor": "#a0a0a0", "tickWidth": 2}},
  "y": {"field": "abs", "type": "quantitative", "scale": {"domain": [0.0527, 0.2632], "nice": false, "zero": false},
        "axis": {"orient": "left", "offset": 168, "labels": false, "ticks": false, "title": null, "domainColor": "#7c7c7c", "domainWidth": 4}},
  "text": {"field": "text"}
 }},
{"data": {"name": "labels"}, "transform": [{"filter": "datum.panel == 'D' && datum.kind == 'name'"}],
 "mark": {"type": "text", "align": "left", "baseline": "alphabetic", "font": "Lato", "fontSize": 70, "color": "#000000"},
 "encoding": {
  "x": {"field": "wn", "type": "quantitative", "scale": {"domain": [3100, 840], "nice": false, "zero": false}, "axis": null},
  "y": {"field": "abs", "type": "quantitative", "scale": {"domain": [0.0527, 0.2632], "nice": false, "zero": false},
        "axis": {"orient": "left", "offset": 173, "labels": false, "ticks": false, "title": null, "domainColor": "#cddff2", "domainWidth": 6}},
  "text": {"field": "text"}
 }}
],
"resolve": {"axis": {"x": "independent", "y": "independent"}}
}
]
}
